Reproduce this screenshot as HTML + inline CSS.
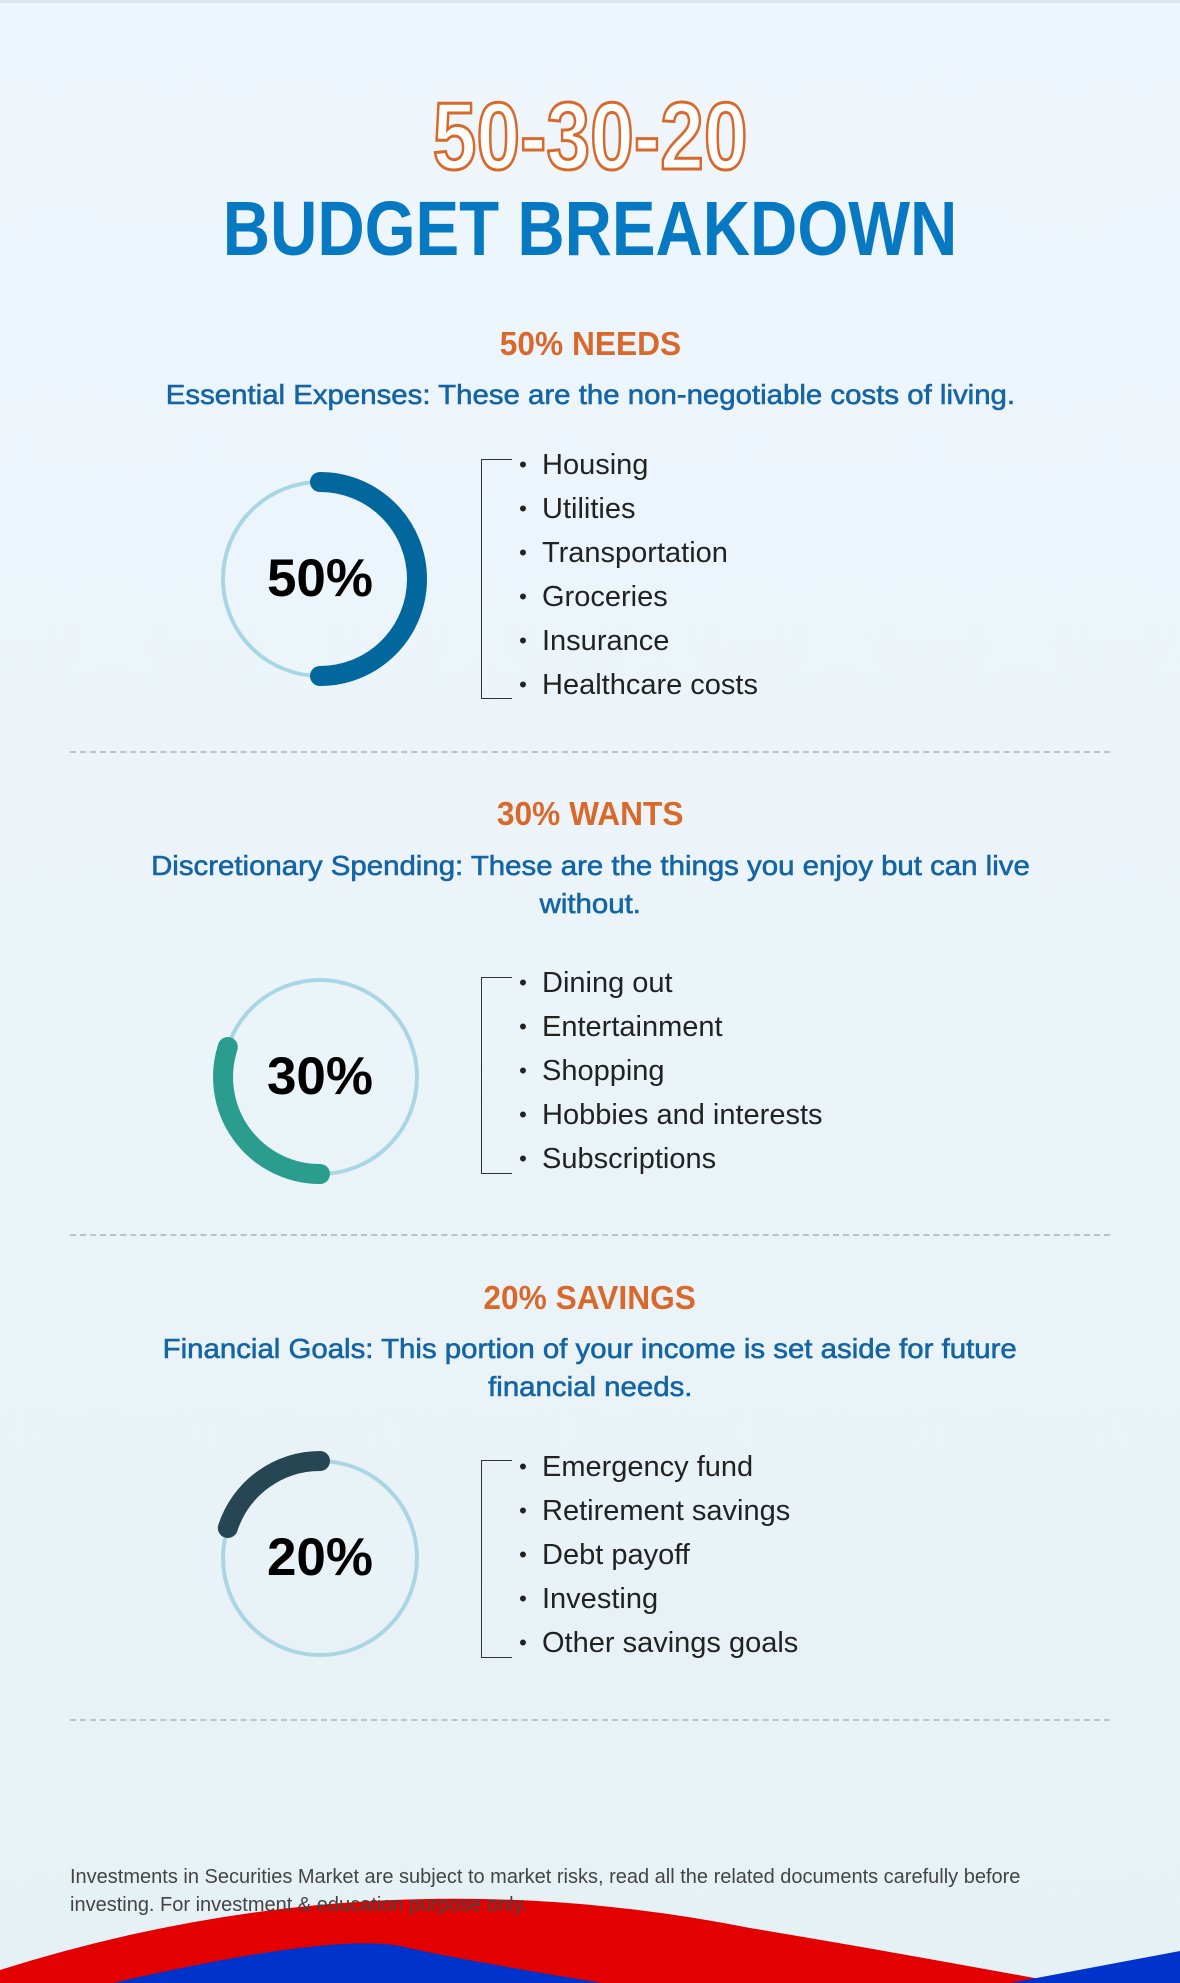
<!DOCTYPE html>
<html><head><meta charset="utf-8"><style>
*{margin:0;padding:0;box-sizing:border-box}
body{width:1180px;height:1980px;overflow:hidden;position:relative;background:linear-gradient(180deg,#eef6fd 0%,#ebf4f9 50%,#e6f1f5 100%);font-family:"Liberation Sans",sans-serif;border-top:3px solid #dde6ee}
.c{position:absolute;left:0;width:1180px;text-align:center;white-space:nowrap}
.t1{top:84px;font-size:96px;font-weight:bold;color:#fff;-webkit-text-stroke:3px #d9692a;line-height:100px}
.t1 span,.t2 span,.h span,.s span{display:inline-block}
.t1 span{transform:scaleX(0.82)}
.t2{top:184px;font-size:77px;font-weight:bold;color:#0779c2;line-height:84px}
.t2 span{transform:scaleX(0.85)}
.h{font-size:33px;font-weight:bold;color:#d9692a;line-height:40px}
.h span{transform:scaleX(0.96)}
.s{font-size:28px;color:#1565a5;line-height:38px}
.s span{transform:scaleX(1.05);-webkit-text-stroke:0.6px #1565a5}
.dash{position:absolute;left:70px;width:1040px;border-top:2px dashed #bcc3c8}
.br{position:absolute;left:481px;width:31px;border:1.5px solid #333;border-right:none}
ul{position:absolute;left:504px;list-style:none;font-size:29px;color:#222;line-height:44px}
li:before{content:"•";display:inline-block;width:38px;text-align:center;font-size:22px;vertical-align:2px}
.p{position:absolute;left:220px;width:200px;text-align:center;font-size:53px;font-weight:bold;color:#000;line-height:60px}
.disc{position:absolute;left:70px;top:1860px;width:1080px;font-size:20px;color:#444;line-height:28px}
</style></head><body>
<div class="c t1"><span>50-30-20</span></div>
<div class="c t2"><span>BUDGET BREAKDOWN</span></div>

<div class="c h" style="top:321px"><span>50% NEEDS</span></div>
<div class="c s" style="top:373px"><span>Essential Expenses: These are the non-negotiable costs of living.</span></div>

<div class="c h" style="top:791px"><span>30% WANTS</span></div>
<div class="c s" style="top:844px"><span>Discretionary Spending: These are the things you enjoy but can live</span></div>
<div class="c s" style="top:882px"><span>without.</span></div>

<div class="c h" style="top:1275px"><span>20% SAVINGS</span></div>
<div class="c s" style="top:1327px"><span>Financial Goals: This portion of your income is set aside for future</span></div>
<div class="c s" style="top:1365px"><span>financial needs.</span></div>

<svg width="1180" height="1980" style="position:absolute;left:0;top:0">
<g fill="none" stroke-linecap="round">
<circle cx="320" cy="576" r="97" stroke="#a9d6e3" stroke-width="4"/>
<path d="M320 479 A97 97 0 0 1 320 673" stroke="#02679d" stroke-width="20"/>
<circle cx="320" cy="1074" r="97" stroke="#a9d6e3" stroke-width="4"/>
<path d="M320 1171 A97 97 0 0 1 227.8 1044" stroke="#2a9d8f" stroke-width="20"/>
<circle cx="320" cy="1555" r="97" stroke="#a9d6e3" stroke-width="4"/>
<path d="M320 1458 A97 97 0 0 0 227.8 1525" stroke="#264653" stroke-width="20"/>
</g>
<path d="M0 1967 Q370 1850 750 1925 Q900 1950 1061 1980 L0 1980Z" fill="#e30000"/>
<path d="M113 1980 Q330 1930 400 1943 Q450 1955 602 1980Z" fill="#0033cc"/>
<path d="M1010 1980 L1180 1948 L1180 1980Z" fill="#0033cc"/>
</svg>

<div class="p" style="top:546px">50%</div>
<div class="p" style="top:1044px">30%</div>
<div class="p" style="top:1525px">20%</div>

<div class="br" style="top:456px;height:240px"></div>
<ul style="top:440px"><li>Housing</li><li>Utilities</li><li>Transportation</li><li>Groceries</li><li>Insurance</li><li>Healthcare costs</li></ul>
<div class="dash" style="top:748px"></div>

<div class="br" style="top:974px;height:197px"></div>
<ul style="top:958px"><li>Dining out</li><li>Entertainment</li><li>Shopping</li><li>Hobbies and interests</li><li>Subscriptions</li></ul>
<div class="dash" style="top:1231px"></div>

<div class="br" style="top:1457px;height:198px"></div>
<ul style="top:1442px"><li>Emergency fund</li><li>Retirement savings</li><li>Debt payoff</li><li>Investing</li><li>Other savings goals</li></ul>
<div class="dash" style="top:1716px"></div>

<div class="disc">Investments in Securities Market are subject to market risks, read all the related documents carefully before<br>investing. For investment &amp; education purpose only.</div>
</body></html>
